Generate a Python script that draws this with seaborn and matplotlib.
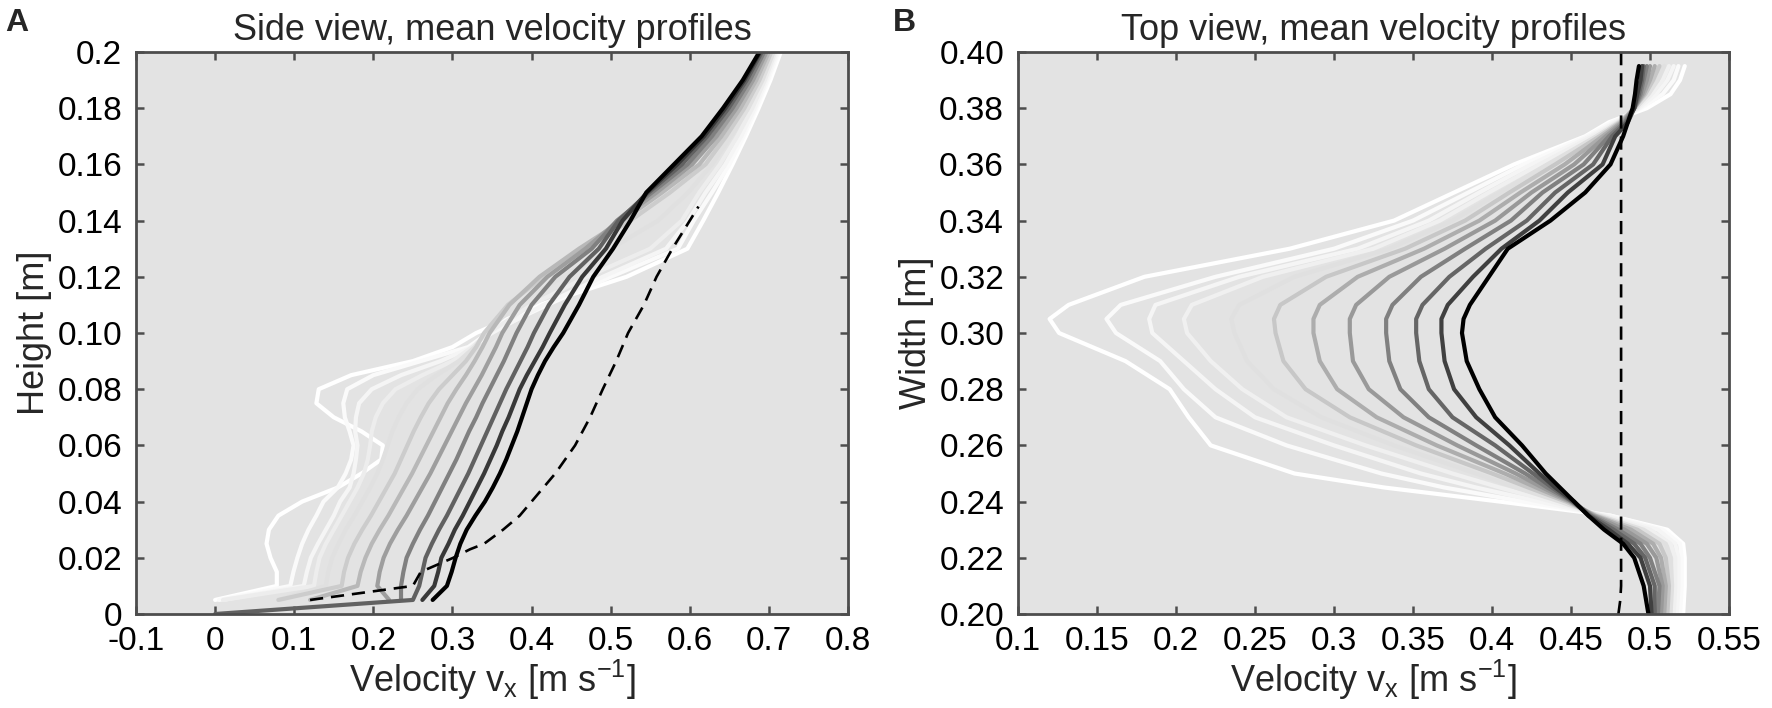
import matplotlib
matplotlib.use("Agg")
import matplotlib.pyplot as plt
import seaborn as sns
import numpy as np
import pandas as pd

# ---------------- Panel A: side view (height vs velocity) ----------------
A_height = [0.000, 0.005, 0.010, 0.015, 0.020, 0.025, 0.030, 0.035, 0.040, 0.045,
            0.050, 0.055, 0.060, 0.065, 0.070, 0.075, 0.080, 0.085, 0.090, 0.095,
            0.100, 0.110, 0.120, 0.130, 0.140, 0.150, 0.160, 0.170, 0.180, 0.190, 0.200]
nan = np.nan
# profiles, earliest (white) to latest (black)
A_profiles = [
    [nan, 0.000, 0.078, 0.078, 0.070, 0.065, 0.068, 0.080, 0.110, 0.155, 0.185, 0.210, 0.212, 0.185, 0.150, 0.128,
     0.131, 0.172, 0.250, 0.300, 0.330, 0.410, 0.520, 0.597, 0.617, 0.636, 0.654, 0.671, 0.687, 0.702, 0.715],
    [nan, 0.005, 0.095, 0.099, 0.104, 0.110, 0.118, 0.128, 0.137, 0.155, 0.165, 0.172, 0.175, 0.170, 0.164, 0.162,
     0.167, 0.200, 0.260, 0.320, 0.345, 0.420, 0.500, 0.585, 0.605, 0.628, 0.650, 0.668, 0.684, 0.699, 0.712],
    [nan, 0.010, 0.112, 0.116, 0.121, 0.130, 0.140, 0.150, 0.158, 0.170, 0.175, 0.178, 0.180, 0.177, 0.178, 0.182,
     0.198, 0.235, 0.285, 0.325, 0.350, 0.415, 0.490, 0.570, 0.598, 0.620, 0.645, 0.665, 0.682, 0.697, 0.710],
    [nan, 0.010, 0.125, 0.128, 0.132, 0.140, 0.150, 0.160, 0.170, 0.180, 0.188, 0.193, 0.196, 0.198, 0.203, 0.212,
     0.228, 0.262, 0.300, 0.325, 0.345, 0.400, 0.470, 0.550, 0.590, 0.612, 0.638, 0.660, 0.679, 0.695, 0.708],
    [nan, 0.080, 0.140, 0.143, 0.148, 0.156, 0.165, 0.176, 0.186, 0.196, 0.205, 0.212, 0.218, 0.224, 0.232, 0.242,
     0.256, 0.280, 0.308, 0.328, 0.342, 0.380, 0.440, 0.500, 0.560, 0.598, 0.628, 0.652, 0.674, 0.692, 0.706],
    [nan, 0.080, 0.160, 0.163, 0.168, 0.176, 0.186, 0.197, 0.207, 0.217, 0.227, 0.235, 0.243, 0.251, 0.260, 0.270,
     0.283, 0.300, 0.317, 0.330, 0.340, 0.370, 0.415, 0.465, 0.525, 0.575, 0.620, 0.646, 0.669, 0.688, 0.703],
    [nan, 0.120, 0.180, 0.184, 0.190, 0.198, 0.208, 0.219, 0.229, 0.239, 0.249, 0.258, 0.267, 0.276, 0.285, 0.294,
     0.305, 0.317, 0.328, 0.338, 0.347, 0.372, 0.410, 0.460, 0.515, 0.565, 0.612, 0.640, 0.664, 0.684, 0.700],
    [nan, 0.220, 0.205, 0.208, 0.213, 0.221, 0.231, 0.242, 0.252, 0.262, 0.272, 0.281, 0.290, 0.299, 0.308, 0.317,
     0.327, 0.337, 0.346, 0.355, 0.363, 0.385, 0.420, 0.468, 0.510, 0.558, 0.603, 0.634, 0.659, 0.680, 0.697],
    [nan, 0.235, 0.235, 0.238, 0.242, 0.250, 0.259, 0.269, 0.278, 0.287, 0.296, 0.305, 0.313, 0.321, 0.330, 0.338,
     0.347, 0.356, 0.365, 0.373, 0.381, 0.400, 0.430, 0.476, 0.508, 0.552, 0.597, 0.628, 0.654, 0.676, 0.694],
    [0.000, 0.250, 0.258, 0.262, 0.266, 0.274, 0.283, 0.293, 0.302, 0.311, 0.320, 0.328, 0.336, 0.344, 0.352, 0.360,
     0.368, 0.377, 0.386, 0.395, 0.403, 0.422, 0.448, 0.485, 0.510, 0.548, 0.590, 0.622, 0.649, 0.672, 0.691],
    [nan, 0.262, 0.277, 0.282, 0.286, 0.295, 0.303, 0.313, 0.322, 0.331, 0.340, 0.348, 0.356, 0.363, 0.371, 0.378,
     0.385, 0.394, 0.404, 0.414, 0.423, 0.442, 0.464, 0.494, 0.515, 0.546, 0.584, 0.618, 0.645, 0.669, 0.689],
    [nan, 0.275, 0.293, 0.299, 0.304, 0.310, 0.318, 0.329, 0.341, 0.351, 0.360, 0.368, 0.375, 0.382, 0.388, 0.394,
     0.400, 0.408, 0.417, 0.428, 0.440, 0.460, 0.478, 0.503, 0.525, 0.545, 0.580, 0.615, 0.642, 0.667, 0.688],
]
A_gray = [1.0, 0.98, 0.96, 0.93, 0.88, 0.80, 0.72, 0.62, 0.50, 0.38, 0.22, 0.0]

A_ref_height = [0.005, 0.010, 0.015, 0.020, 0.023, 0.025, 0.030, 0.035, 0.040, 0.050, 0.060,
                0.070, 0.080, 0.090, 0.100, 0.110, 0.120, 0.130, 0.140, 0.145]
A_ref_vel = [0.120, 0.250, 0.260, 0.301, 0.322, 0.340, 0.364, 0.385, 0.400, 0.430, 0.455,
             0.474, 0.490, 0.507, 0.522, 0.542, 0.558, 0.578, 0.600, 0.611]

# ---------------- Panel B: top view (width vs velocity) ----------------
B_width = [0.200, 0.210, 0.220, 0.225, 0.230, 0.235, 0.240, 0.245, 0.250, 0.260, 0.270, 0.280, 0.290,
           0.300, 0.305, 0.310, 0.320, 0.330, 0.340, 0.350, 0.360, 0.370, 0.375, 0.380, 0.385, 0.390, 0.395]
B_profiles = [
    [0.521, 0.522, 0.522, 0.521, 0.511, 0.475, 0.405, 0.332, 0.275, 0.222, 0.208, 0.196, 0.168,
     0.126, 0.120, 0.132, 0.180, 0.272, 0.338, 0.376, 0.414, 0.459, 0.474, 0.498, 0.513, 0.519, 0.522],
    [0.519, 0.520, 0.520, 0.519, 0.508, 0.475, 0.420, 0.370, 0.330, 0.270, 0.225, 0.205, 0.190,
     0.162, 0.156, 0.165, 0.225, 0.300, 0.350, 0.385, 0.420, 0.460, 0.476, 0.494, 0.508, 0.515, 0.518],
    [0.517, 0.518, 0.518, 0.516, 0.505, 0.472, 0.430, 0.390, 0.355, 0.300, 0.250, 0.225, 0.205,
     0.185, 0.183, 0.187, 0.240, 0.315, 0.360, 0.392, 0.425, 0.462, 0.478, 0.493, 0.504, 0.511, 0.515],
    [0.515, 0.516, 0.516, 0.513, 0.500, 0.470, 0.438, 0.405, 0.375, 0.320, 0.270, 0.242, 0.222,
     0.207, 0.205, 0.210, 0.255, 0.325, 0.367, 0.398, 0.430, 0.464, 0.479, 0.492, 0.501, 0.508, 0.512],
    [0.513, 0.514, 0.513, 0.510, 0.496, 0.468, 0.443, 0.415, 0.390, 0.338, 0.292, 0.262, 0.245,
     0.237, 0.235, 0.240, 0.275, 0.335, 0.375, 0.405, 0.435, 0.466, 0.480, 0.491, 0.499, 0.505, 0.509],
    [0.511, 0.512, 0.510, 0.506, 0.492, 0.466, 0.447, 0.423, 0.400, 0.352, 0.310, 0.282, 0.268,
     0.263, 0.262, 0.266, 0.295, 0.345, 0.383, 0.411, 0.440, 0.468, 0.481, 0.490, 0.497, 0.502, 0.506],
    [0.509, 0.510, 0.507, 0.502, 0.488, 0.465, 0.449, 0.428, 0.408, 0.365, 0.327, 0.302, 0.291,
     0.287, 0.287, 0.291, 0.315, 0.357, 0.392, 0.418, 0.446, 0.470, 0.482, 0.490, 0.496, 0.500, 0.503],
    [0.507, 0.508, 0.504, 0.498, 0.484, 0.464, 0.450, 0.432, 0.415, 0.378, 0.344, 0.322, 0.312,
     0.310, 0.310, 0.314, 0.335, 0.370, 0.402, 0.425, 0.452, 0.472, 0.483, 0.490, 0.495, 0.498, 0.500],
    [0.505, 0.506, 0.500, 0.494, 0.480, 0.463, 0.451, 0.435, 0.421, 0.390, 0.360, 0.342, 0.335,
     0.333, 0.333, 0.337, 0.355, 0.383, 0.412, 0.432, 0.458, 0.474, 0.484, 0.490, 0.494, 0.496, 0.498],
    [0.503, 0.503, 0.497, 0.490, 0.477, 0.462, 0.451, 0.438, 0.426, 0.402, 0.375, 0.360, 0.354,
     0.352, 0.352, 0.356, 0.373, 0.396, 0.422, 0.440, 0.464, 0.476, 0.485, 0.490, 0.493, 0.495, 0.496],
    [0.501, 0.500, 0.494, 0.486, 0.474, 0.461, 0.452, 0.440, 0.430, 0.411, 0.390, 0.376, 0.370,
     0.368, 0.368, 0.372, 0.388, 0.406, 0.430, 0.448, 0.470, 0.478, 0.486, 0.490, 0.492, 0.494, 0.495],
    [0.499, 0.496, 0.490, 0.483, 0.471, 0.461, 0.452, 0.443, 0.434, 0.419, 0.402, 0.392, 0.384,
     0.381, 0.382, 0.386, 0.398, 0.410, 0.437, 0.459, 0.475, 0.483, 0.486, 0.489, 0.4905, 0.4915, 0.493],
]
B_gray = [1.0, 0.98, 0.96, 0.94, 0.88, 0.78, 0.68, 0.60, 0.50, 0.40, 0.25, 0.0]

B_ref_width = [0.200, 0.205, 0.210, 0.220, 0.400]
B_ref_vel = [0.480, 0.4812, 0.4817, 0.4817, 0.4817]


def to_long(heights, profiles, ycol):
    rows = []
    for i, xs in enumerate(profiles):
        for h, v in zip(heights, xs):
            rows.append({"profile": f"p{i:02d}", "velocity": v, ycol: h})
    return pd.DataFrame(rows).dropna()


df_A = to_long(A_height, A_profiles, "height")
df_B = to_long(B_width, B_profiles, "width")
pal_A = {f"p{i:02d}": str(g) for i, g in enumerate(A_gray)}
pal_B = {f"p{i:02d}": str(g) for i, g in enumerate(B_gray)}

sns.set_style("ticks")
plt.rcParams["font.family"] = ["Liberation Sans", "DejaVu Sans"]
plt.rcParams["mathtext.fontset"] = "custom"
plt.rcParams["mathtext.rm"] = "Liberation Sans"

fig = plt.figure(figsize=(17.72, 7.08), dpi=100)
axA = fig.add_axes([136 / 1772, 94 / 708, 712 / 1772, 562 / 708])
axB = fig.add_axes([1018 / 1772, 94 / 708, 711 / 1772, 562 / 708])

sns.lineplot(data=df_A, x="velocity", y="height", hue="profile", palette=pal_A,
             sort=False, estimator=None, legend=False, lw=3.0, ax=axA)
axA.plot(A_ref_vel, A_ref_height, color="black", ls=(0, (5, 3)), lw=1.9)

sns.lineplot(data=df_B, x="velocity", y="width", hue="profile", palette=pal_B,
             sort=False, estimator=None, legend=False, lw=3.0, ax=axB)
axB.plot(B_ref_vel, B_ref_width, color="black", ls=(0, (5, 3)), lw=1.9)

xlabel = r"Velocity v$_\mathregular{x}$ [m s$^\mathregular{-1}$]"

axA.set_xlim(-0.1, 0.8)
axA.set_ylim(0, 0.2)
axA.set_xticks(np.round(np.arange(-0.1, 0.81, 0.1), 2),
               ["-0.1", "0", "0.1", "0.2", "0.3", "0.4", "0.5", "0.6", "0.7", "0.8"])
axA.set_yticks(np.round(np.arange(0, 0.201, 0.02), 2),
               ["0", "0.02", "0.04", "0.06", "0.08", "0.10", "0.12", "0.14", "0.16", "0.18", "0.2"])
axA.set_xlabel(xlabel, fontsize=26, labelpad=0)
axA.set_ylabel("Height [m]", fontsize=26, labelpad=4)
axA.set_title("Side view, mean velocity profiles", fontsize=26, pad=9)

axB.set_xlim(0.1, 0.55)
axB.set_ylim(0.2, 0.4)
axB.set_xticks(np.round(np.arange(0.1, 0.551, 0.05), 2),
               ["0.1", "0.15", "0.2", "0.25", "0.3", "0.35", "0.4", "0.45", "0.5", "0.55"])
axB.set_yticks(np.round(np.arange(0.2, 0.401, 0.02), 2),
               [f"{v:.2f}" for v in np.arange(0.2, 0.401, 0.02)])
axB.set_xlabel(xlabel, fontsize=26, labelpad=0)
axB.set_ylabel("Width [m]", fontsize=26, labelpad=4)
axB.set_title("Top view, mean velocity profiles", fontsize=26, pad=9)

for ax in (axA, axB):
    ax.set_facecolor("#e3e3e3")
    for s in ax.spines.values():
        s.set_visible(True)
        s.set_color("#4d4d4d")
        s.set_linewidth(2.0)
    ax.tick_params(direction="in", length=6, width=1.8, color="#4d4d4d",
                   top=True, right=True, labelsize=24, labelcolor="black")
    ax.tick_params(axis="x", pad=9)
    ax.tick_params(axis="y", pad=10)

fig.text(0.003, 0.988, "A", fontsize=23, fontweight="bold", va="top", ha="left")
fig.text(0.504, 0.988, "B", fontsize=23, fontweight="bold", va="top", ha="left")

fig.savefig("out.png", dpi=100)
